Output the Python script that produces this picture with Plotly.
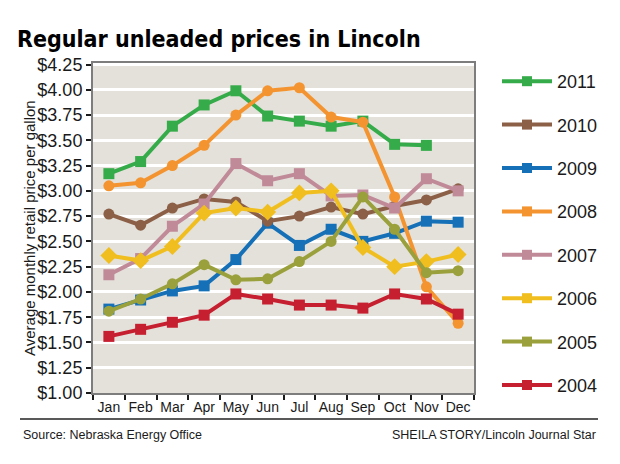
import plotly.graph_objects as go

months = ["Jan", "Feb", "Mar", "Apr", "May", "Jun", "Jul", "Aug", "Sep", "Oct", "Nov", "Dec"]

p2011 = [3.17, 3.29, 3.64, 3.85, 3.99, 3.74, 3.69, 3.64, 3.69, 3.46, 3.45, None]
p2010 = [2.77, 2.66, 2.83, 2.92, 2.89, 2.70, 2.75, 2.84, 2.77, 2.85, 2.91, 3.02]
p2009 = [1.83, 1.92, 2.01, 2.06, 2.32, 2.68, 2.46, 2.62, 2.50, 2.58, 2.70, 2.69]
p2008 = [3.05, 3.08, 3.25, 3.45, 3.75, 3.99, 4.02, 3.73, 3.68, 2.94, 2.05, 1.69]
p2007 = [2.17, 2.33, 2.65, 2.87, 3.27, 3.10, 3.17, 2.95, 2.96, 2.83, 3.12, 3.00]
p2006 = [2.36, 2.31, 2.45, 2.78, 2.83, 2.79, 2.98, 3.00, 2.44, 2.25, 2.30, 2.37]
p2005 = [1.81, 1.93, 2.08, 2.27, 2.12, 2.13, 2.30, 2.50, 2.94, 2.62, 2.19, 2.21]
p2004 = [1.56, 1.63, 1.70, 1.77, 1.98, 1.93, 1.87, 1.87, 1.84, 1.98, 1.93, 1.78]

years = ["2011", "2010", "2009", "2008", "2007", "2006", "2005", "2004"]
values = {"2011": p2011, "2010": p2010, "2009": p2009, "2008": p2008,
          "2007": p2007, "2006": p2006, "2005": p2005, "2004": p2004}
colors = {"2011": "#36ab4a", "2010": "#8c5f47", "2009": "#1670b7", "2008": "#f39431",
          "2007": "#c18a99", "2006": "#f0be1e", "2005": "#9aa03b", "2004": "#c61f30"}
symbols = {"2011": "square", "2010": "circle", "2009": "square", "2008": "circle",
           "2007": "square", "2006": "diamond", "2005": "circle", "2004": "square"}

ytick_vals = [1.00, 1.25, 1.50, 1.75, 2.00, 2.25, 2.50, 2.75, 3.00, 3.25, 3.50, 3.75, 4.00, 4.25]
ytick_text = ["$%.2f" % v for v in ytick_vals]

fig = go.Figure()

draw_order = ["2011", "2009", "2010", "2008", "2007", "2006", "2005", "2004"]
for y in draw_order:
    fig.add_trace(go.Scatter(
        x=months, y=values[y], mode="lines+markers", name=y, showlegend=False,
        line=dict(color=colors[y], width=4),
        marker=dict(color=colors[y], size=11 if symbols[y] != "diamond" else 13, symbol=symbols[y]),
    ))

# legend entries (squares, like the original key)
for y in years:
    fig.add_trace(go.Scatter(
        x=[None], y=[None], mode="lines+markers", name=y, legendgroup=y,
        line=dict(color=colors[y], width=4),
        marker=dict(color=colors[y], size=10, symbol="square"),
    ))

L, R, T, B = 93, 146, 63, 71
W, H = 620, 464
pw = W - L - R
ph = H - T - B

def px_x(p):
    return (p - L) / pw

def px_y(p):
    return (H - B - p) / ph

fig.update_layout(
    width=W, height=H,
    margin=dict(l=L, r=R, t=T, b=B, autoexpand=False),
    paper_bgcolor="white",
    plot_bgcolor="#e3e1da",
    font=dict(family="Liberation Sans, Arial, sans-serif", color="#1a1a1a"),
    title=dict(text="<b>Regular unleaded prices in Lincoln</b>",
               font=dict(family="DejaVu Sans Condensed, Liberation Sans Narrow, Liberation Sans, sans-serif",
                         size=23, color="black"),
               x=17 / W, xref="container", xanchor="left",
               y=1 - 39 / H, yref="container", yanchor="middle"),
    xaxis=dict(
        type="category", range=[-0.5, 11.5], automargin=False,
        showgrid=False, tickson="boundaries", ticks="outside", ticklen=5,
        tickwidth=2, tickcolor="#1a1a1a", tickangle=0,
        tickfont=dict(size=14, color="#1a1a1a"),
        showline=True, linecolor="#7d7d7d", linewidth=2, mirror=True,
    ),
    yaxis=dict(
        range=[1.0, 4.265], tickvals=ytick_vals, ticktext=ytick_text, automargin=False,
        showgrid=True, gridcolor="white", gridwidth=3,
        ticks="outside", ticklen=5, tickwidth=2, tickcolor="#1a1a1a",
        tickfont=dict(size=18, color="#1a1a1a"),
        showline=True, linecolor="#7d7d7d", linewidth=2, mirror=True,
        zeroline=False,
    ),
    legend=dict(
        x=px_x(497), y=px_y(63), xanchor="left", yanchor="top",
        font=dict(size=18, color="#1a1a1a"),
        tracegroupgap=17, itemwidth=50, bgcolor="rgba(0,0,0,0)",
        traceorder="grouped", maxheight=440,
    ),
    showlegend=True,
)

fig.add_annotation(
    text="Average monthly retail price per gallon", textangle=-90,
    xref="paper", yref="paper", x=px_x(29), y=px_y(228),
    xanchor="center", yanchor="middle", showarrow=False,
    font=dict(size=15, color="#1a1a1a"),
)

fig.add_shape(type="line", xref="paper", yref="paper",
              x0=px_x(20), x1=px_x(598), y0=px_y(419), y1=px_y(419),
              line=dict(color="#222222", width=1.5))

fig.add_annotation(
    text="Source: Nebraska Energy Office", xref="paper", yref="paper",
    x=px_x(21), y=px_y(435), xanchor="left", yanchor="middle", showarrow=False,
    font=dict(size=12.5, color="#1a1a1a"),
)
fig.add_annotation(
    text="SHEILA STORY/Lincoln Journal Star", xref="paper", yref="paper",
    x=px_x(598), y=px_y(435), xanchor="right", yanchor="middle", showarrow=False,
    font=dict(size=12.5, color="#1a1a1a"),
)

fig.write_html("out.html", config={"displayModeBar": False},
               post_script="document.body.style.margin='0';")
